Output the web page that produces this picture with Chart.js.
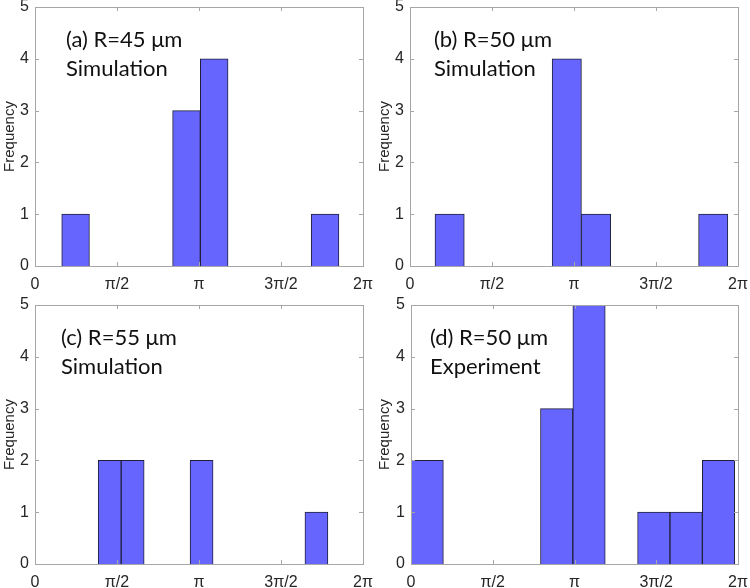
<!DOCTYPE html>
<html>
<head>
<meta charset="utf-8">
<script src="https://cdn.jsdelivr.net/npm/chart.js@4.4.0/dist/chart.umd.min.js"></script>
<style>
  body { margin: 0; background: #fff; }
  #wrap { position: relative; width: 750px; height: 588px; }
  .panel { position: absolute; width: 375px; height: 294px; }
</style>
</head>
<body>
<div id="wrap">
  <div class="panel" style="left:0;top:0"><canvas id="chart-a" width="375" height="294"></canvas></div>
  <div class="panel" style="left:375px;top:0"><canvas id="chart-b" width="375" height="294"></canvas></div>
  <div class="panel" style="left:0;top:294px"><canvas id="chart-c" width="375" height="294"></canvas></div>
  <div class="panel" style="left:375px;top:294px"><canvas id="chart-d" width="375" height="294"></canvas></div>
</div>
<script>
const PI = Math.PI;

// x axis ticks (phase, rad)
const xTickValues = [0, PI / 2, PI, 3 * PI / 2, 2 * PI];
const xTickLabels = ["0", "π/2", "π", "3π/2", "2π"];
const yMax = 5;

// histogram bins: first edge (rad), bin width (rad), counts
const binStartA = 0.512, binWidthA = 0.531;
const countsA = [1, 0, 0, 0, 3, 4, 0, 0, 0, 1];

const binStartB = 0.479, binWidthB = 0.561;
const countsB = [1, 0, 0, 0, 4, 1, 0, 0, 0, 1];

const binStartC = 1.211, binWidthC = 0.440;
const countsC = [2, 2, 0, 0, 2, 0, 0, 0, 0, 1];

const binStartD = 0.0, binWidthD = 0.622;
const countsD = [2, 0, 0, 0, 3, 5, 0, 1, 1, 2];

const labelA = ["(a) R=45 μm", "Simulation"];
const labelB = ["(b) R=50 μm", "Simulation"];
const labelC = ["(c) R=55 μm", "Simulation"];
const labelD = ["(d) R=50 μm", "Experiment"];

// matlab style box with inward ticks + panel text
const matlabBox = {
  id: "matlabBox",
  afterDraw(chart, args, opts) {
    const ctx = chart.ctx;
    const a = chart.chartArea;
    const xs = chart.scales.x;
    const ys = chart.scales.y;
    ctx.save();
    ctx.strokeStyle = "#a6a6a6";
    ctx.lineWidth = 1;
    ctx.strokeRect(Math.round(a.left) + 0.5, Math.round(a.top) + 0.5,
      Math.round(a.right - a.left), Math.round(a.bottom - a.top));
    ctx.beginPath();
    xs.ticks.forEach(t => {
      const px = Math.round(xs.getPixelForValue(t.value)) + 0.5;
      ctx.moveTo(px, a.bottom); ctx.lineTo(px, a.bottom - 4);
      ctx.moveTo(px, a.top); ctx.lineTo(px, a.top + 4);
    });
    ys.ticks.forEach(t => {
      const py = Math.round(ys.getPixelForValue(t.value)) + 0.5;
      ctx.moveTo(a.left, py); ctx.lineTo(a.left + 4, py);
      ctx.moveTo(a.right, py); ctx.lineTo(a.right - 4, py);
    });
    ctx.stroke();

    ctx.fillStyle = "#111";
    ctx.font = '22px Lato';
    ctx.textBaseline = "alphabetic";
    opts.lines.forEach((s, i) => {
      ctx.fillText(s, a.left + opts.dx, a.top + opts.dy + i * 29);
    });
    ctx.restore();
  }
};

function makeChart(id, binStart, binWidth, counts, lines, lay) {
  const pts = counts.map((c, i) => ({ x: binStart + (i + 0.5) * binWidth, y: c }));
  const tickFont = { family: "Arial", size: 16, lineHeight: 1 };
  return new Chart(document.getElementById(id), {
    type: "bar",
    data: {
      datasets: [{
        data: pts,
        backgroundColor: "#6666ff",
        borderColor: "#20203a",
        borderWidth: 1,
        borderSkipped: "start",
        barPercentage: 1,
        categoryPercentage: 1,
      }],
    },
    options: {
      responsive: false,
      animation: false,
      layout: { padding: { left: 0, right: lay.right, top: lay.top, bottom: 0 } },
      plugins: {
        legend: { display: false },
        tooltip: { enabled: false },
        matlabBox: { lines: lines, dx: lay.dx, dy: lay.dy },
      },
      scales: {
        x: {
          type: "linear",
          offset: false,
          min: 0,
          max: 2 * PI,
          grid: { display: false, drawTicks: false, offset: false },
          border: { display: false },
          afterBuildTicks: ax => { ax.ticks = xTickValues.map(v => ({ value: v })); },
          afterFit: ax => { ax.height = lay.xh; ax.paddingLeft = 0; ax.paddingRight = 0; },
          ticks: {
            autoSkip: false,
            maxRotation: 0,
            padding: 11,
            color: "#262626",
            font: tickFont,
            callback: (v, i) => xTickLabels[i],
          },
        },
        y: {
          min: 0,
          max: yMax,
          grid: { display: false, drawTicks: false },
          border: { display: false },
          afterFit: ax => { ax.width = lay.yw; ax.paddingTop = 0; ax.paddingBottom = 0; },
          ticks: { stepSize: 1, padding: 6, color: "#262626", font: tickFont },
          title: {
            display: true,
            text: "Frequency",
            color: "#262626",
            font: { family: "Arial", size: 15, lineHeight: 1 },
            padding: { top: 2, bottom: 0 },
          },
        },
      },
    },
    plugins: [matlabBox],
  });
}

makeChart("chart-a", binStartA, binWidthA, countsA, labelA, { right: 12, top: 7, xh: 28, yw: 35, dx: 31, dy: 40 });
makeChart("chart-b", binStartB, binWidthB, countsB, labelB, { right: 12, top: 7, xh: 28, yw: 35, dx: 24, dy: 40 });
makeChart("chart-c", binStartC, binWidthC, countsC, labelC, { right: 12, top: 11, xh: 24, yw: 35, dx: 26, dy: 40 });
makeChart("chart-d", binStartD, binWidthD, countsD, labelD, { right: 12, top: 11, xh: 24, yw: 36, dx: 19, dy: 40 });
</script>
</body>
</html>
